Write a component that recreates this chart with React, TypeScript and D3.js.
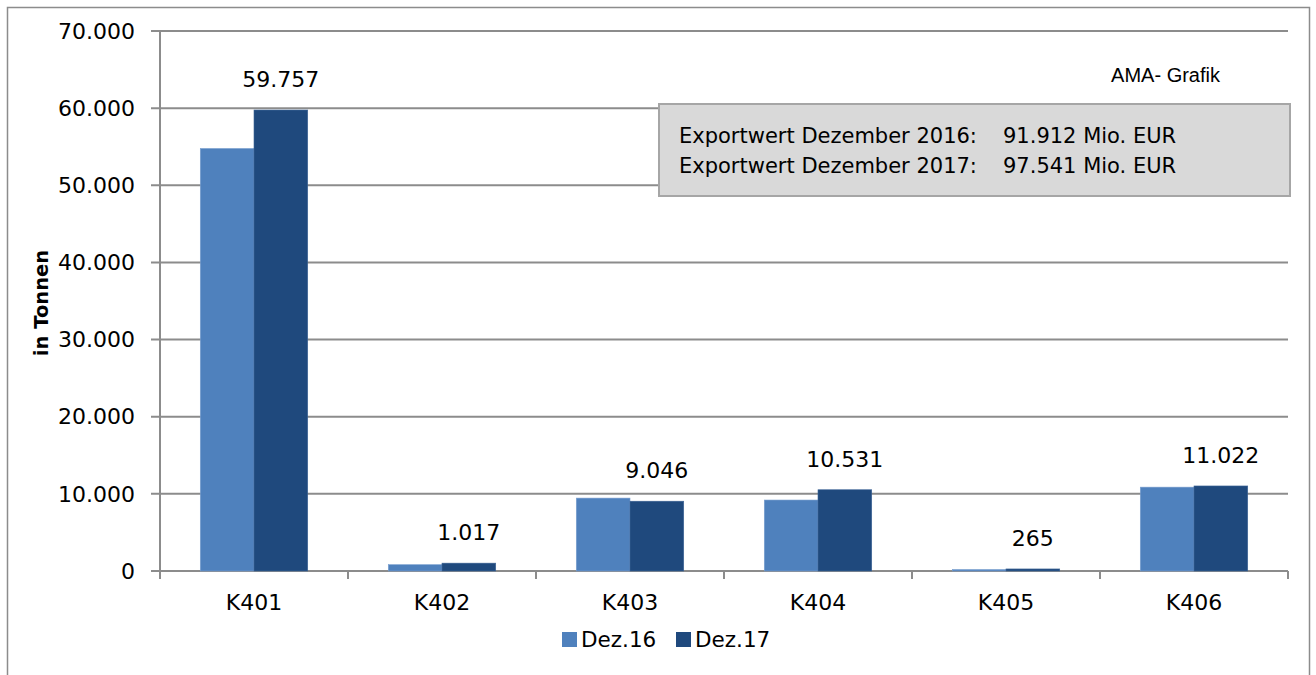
import * as d3 from "d3";
import { useEffect, useRef } from "react";

const categories = ["K401", "K402", "K403", "K404", "K405", "K406"];
const seriesNames = ["Dez.16", "Dez.17"];
const dez16 = [54770, 820, 9450, 9200, 190, 10870];
const dez17 = [59757, 1017, 9046, 10531, 265, 11022];
const yTicks = [0, 10000, 20000, 30000, 40000, 50000, 60000, 70000];
const infoLines = [
  ["Exportwert Dezember 2016:", "91.912 Mio. EUR"],
  ["Exportwert Dezember 2017:", "97.541 Mio. EUR"],
];

const colors = ["#4f81bd", "#1f497d"];
const font = "'DejaVu Sans', sans-serif";

const App = () => {
  const ref = useRef<SVGSVGElement | null>(null);

  useEffect(() => {
    const svg = d3.select(ref.current);
    svg.selectAll("*").remove();

    const width = 1316,
      height = 675,
      margin = { top: 31, right: 28, bottom: 104, left: 160 };

    const de = d3.formatLocale({
      decimal: ",",
      thousands: ".",
      grouping: [3],
      currency: ["", " €"],
    });
    const fmt = de.format(",d");

    // outer frame
    svg
      .append("rect")
      .attr("x", 7.5)
      .attr("y", 7.5)
      .attr("width", 1302)
      .attr("height", 680)
      .attr("fill", "white")
      .attr("stroke", "#8c8c8c")
      .attr("stroke-width", 1.5);

    const x = d3
      .scaleBand()
      .domain(categories)
      .range([margin.left, width - margin.right]);

    const xInner = d3
      .scaleBand()
      .domain(seriesNames)
      .range([0, x.bandwidth()])
      .paddingInner(0)
      .paddingOuter(0.75);

    const y = d3
      .scaleLinear()
      .domain([0, 70000])
      .range([height - margin.bottom, margin.top]);

    // gridlines
    svg
      .append("g")
      .selectAll("line")
      .data(yTicks)
      .join("line")
      .attr("x1", margin.left - 9)
      .attr("x2", width - margin.right)
      .attr("y1", (d) => y(d))
      .attr("y2", (d) => y(d))
      .attr("stroke", "#8c8c8c")
      .attr("stroke-width", 2);

    // y labels
    svg
      .append("g")
      .selectAll("text")
      .data(yTicks)
      .join("text")
      .attr("x", margin.left - 25)
      .attr("y", (d) => y(d))
      .attr("dy", "0.35em")
      .attr("text-anchor", "end")
      .attr("font-family", font)
      .attr("font-size", 22)
      .attr("fill", "#000")
      .text((d) => fmt(d));

    // y axis line
    svg
      .append("line")
      .attr("x1", margin.left)
      .attr("x2", margin.left)
      .attr("y1", margin.top)
      .attr("y2", y(0) + 8)
      .attr("stroke", "#8c8c8c")
      .attr("stroke-width", 2);

    // x ticks
    const bounds = categories.map((c) => x(c) ?? 0).concat([x.range()[1]]);
    svg
      .append("g")
      .selectAll("line")
      .data(bounds)
      .join("line")
      .attr("x1", (d) => d)
      .attr("x2", (d) => d)
      .attr("y1", y(0))
      .attr("y2", y(0) + 8)
      .attr("stroke", "#8c8c8c")
      .attr("stroke-width", 2);

    // bars
    const groups = svg
      .append("g")
      .selectAll("g")
      .data(categories)
      .join("g")
      .attr("transform", (d) => `translate(${x(d)},0)`);

    [dez16, dez17].forEach((vals, si) => {
      groups
        .append("rect")
        .attr("x", xInner(seriesNames[si]) ?? 0)
        .attr("width", xInner.bandwidth())
        .attr("y", (_, i) => y(vals[i]))
        .attr("height", (_, i) => y(0) - y(vals[i]))
        .attr("fill", colors[si])
        .attr("stroke", si === 0 ? "#7a9fcf" : "#3d6496")
        .attr("stroke-width", 0.6);
    });

    // value labels on Dez.17
    groups
      .append("text")
      .attr("x", (xInner("Dez.17") ?? 0) + xInner.bandwidth() / 2)
      .attr("y", (_, i) => y(dez17[i]) - 23)
      .attr("text-anchor", "middle")
      .attr("font-family", font)
      .attr("font-size", 22)
      .attr("fill", "#000")
      .text((_, i) => fmt(dez17[i]));

    // category labels
    groups
      .append("text")
      .attr("x", x.bandwidth() / 2)
      .attr("y", y(0) + 39)
      .attr("text-anchor", "middle")
      .attr("font-family", font)
      .attr("font-size", 22)
      .attr("fill", "#000")
      .text((d) => d);

    // y title
    svg
      .append("text")
      .attr("transform", `translate(48,303) rotate(-90)`)
      .attr("text-anchor", "middle")
      .attr("font-family", font)
      .attr("font-weight", "bold")
      .attr("font-size", 19.5)
      .attr("fill", "#000")
      .text("in Tonnen");

    // AMA label
    svg
      .append("text")
      .attr("x", 1220)
      .attr("y", 82)
      .attr("text-anchor", "end")
      .attr("font-family", "'Liberation Sans', Arial, sans-serif")
      .attr("font-size", 20)
      .attr("fill", "#000")
      .text("AMA- Grafik");

    // info box
    const box = svg.append("g").attr("transform", "translate(659,104)");
    box
      .append("rect")
      .attr("width", 631)
      .attr("height", 92)
      .attr("fill", "#d9d9d9")
      .attr("stroke", "#a6a6a6")
      .attr("stroke-width", 2);
    box
      .selectAll("g")
      .data(infoLines)
      .join("g")
      .attr("transform", (_, i) => `translate(20,${39 + i * 30})`)
      .each(function (d) {
        const g = d3.select(this);
        g.append("text")
          .attr("font-family", font)
          .attr("font-size", 21)
          .attr("fill", "#000")
          .text(d[0]);
        g.append("text")
          .attr("x", 324)
          .attr("font-family", font)
          .attr("font-size", 21)
          .attr("fill", "#000")
          .text(d[1]);
      });

    // legend
    const legendX = [562, 676];
    const legend = svg
      .append("g")
      .selectAll("g")
      .data(seriesNames)
      .join("g")
      .attr("transform", (_, i) => `translate(${legendX[i]},632)`);
    legend
      .append("rect")
      .attr("width", 15)
      .attr("height", 15)
      .attr("fill", (_, i) => colors[i]);
    legend
      .append("text")
      .attr("x", 19)
      .attr("y", 15)
      .attr("font-family", font)
      .attr("font-size", 21.5)
      .attr("fill", "#000")
      .text((d) => d);
  }, []);

  return (
    <svg
      ref={ref}
      width={1316}
      height={675}
      style={{ position: "absolute", left: 0, top: 0, background: "white" }}
    ></svg>
  );
};

export default App;
